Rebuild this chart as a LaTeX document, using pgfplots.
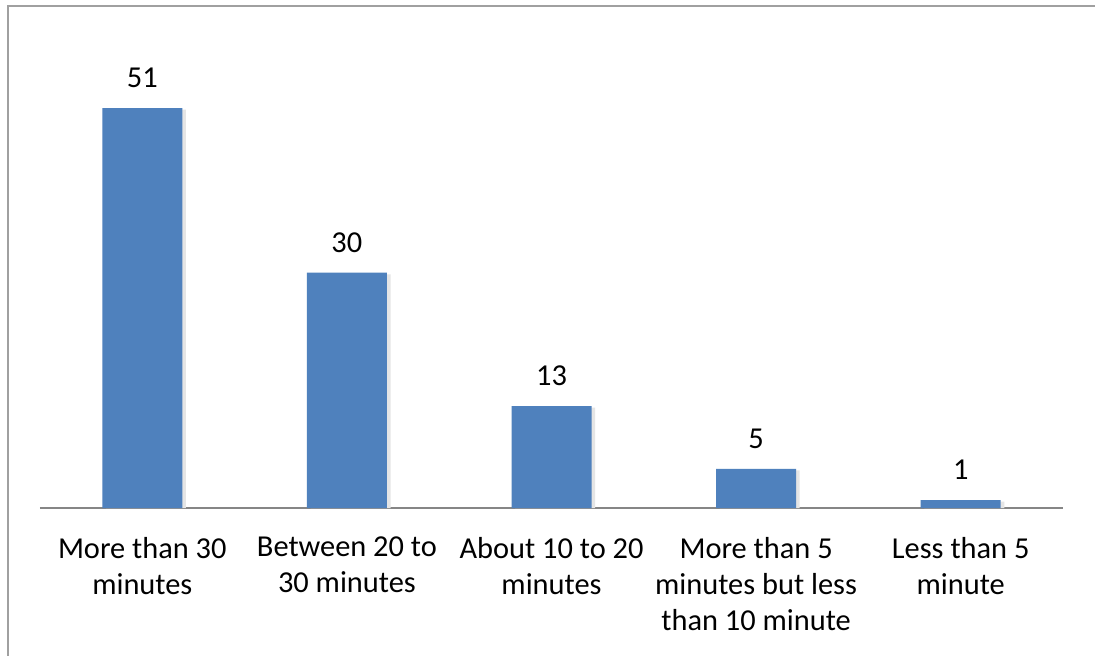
\documentclass[border=0pt]{standalone}
\usepackage{pgfplots}
\pgfplotsset{compat=1.18}
\usepackage{fontspec}
\setmainfont{Carlito}
\definecolor{barblue}{HTML}{4F81BD}
\definecolor{framegray}{HTML}{A0A0A0}
\definecolor{axisgray}{HTML}{868686}
\begin{document}
\begin{tikzpicture}
% 1 px of the reference = 0.5pt
\fill[white] (0,0) rectangle (547.5pt,327.5pt);
\begin{axis}[
    at={(20pt,73.5pt)}, anchor=south west,
    scale only axis,
    width=511.5pt, height=223.5pt,
    xmin=-0.5, xmax=4.5,
    ymin=0, ymax=57,
    axis y line=none,
    axis x line*=bottom,
    axis line style={-, draw=axisgray, line width=0.8pt},
    xtick=data,
    xticklabels={{More than 30\\minutes},{Between 20 to\\30 minutes},{About 10 to 20\\minutes},{More than 5\\minutes but less\\than 10 minute},{Less than 5\\minute}},
    major tick length=0pt,
    xticklabel style={align=center, font=\fontsize{15.2}{18}\selectfont, yshift=-11pt},
    /pgf/number format/assume math mode=true,
    ybar, bar width=40pt,
    clip=false,
]
% soft shadow behind the bars
\addplot[draw=none, fill=black!10, bar shift=1.8pt, forget plot]
    coordinates {(0,50.8) (1,29.8) (2,12.8) (3,4.8) (4,0.8)};
\addplot[draw=none, fill=barblue, bar shift=0pt,
    nodes near coords,
    nodes near coords style={font=\fontsize{15.2}{18}\selectfont, text=black, inner sep=0pt, yshift=10pt}]
    coordinates {(0,51) (1,30) (2,13) (3,5) (4,1)};
\end{axis}
% chart frame (cut at the right and bottom)
\draw[framegray, line width=1pt] (4pt,-2pt) -- (4pt,324.5pt) -- (547.5pt,324.5pt);
\pgfresetboundingbox
\useasboundingbox (0,0) rectangle (547.5pt,327.5pt);
\end{tikzpicture}
\end{document}
